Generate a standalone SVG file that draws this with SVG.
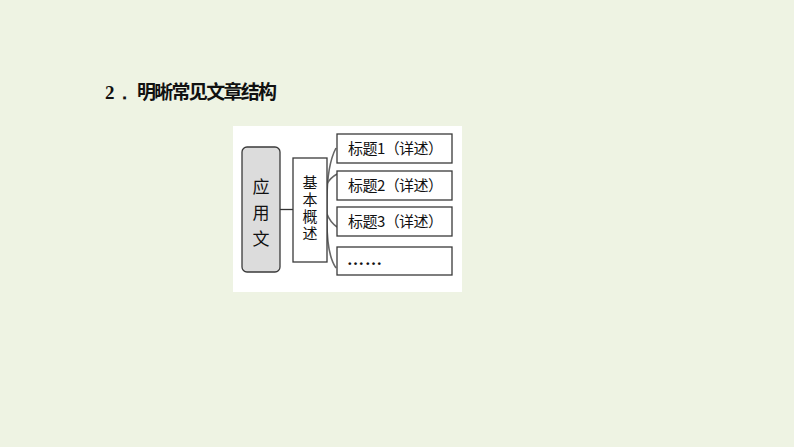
<svg xmlns="http://www.w3.org/2000/svg" width="794" height="447" viewBox="0 0 794 447">
<style>
.box{fill:#fff;stroke:#3a3a3a;stroke-width:1.3}
.t{font-family:"Noto Sans CJK SC","Liberation Serif",serif;fill:#111}
.lbl{font-size:15px}
.v{writing-mode:vertical-rl}
.con{fill:none;stroke:#666;stroke-width:1.6}
</style>
<rect x="0" y="0" width="794" height="447" fill="#eef3e3"/>
<text x="105" y="99" font-family="Liberation Serif, serif" font-weight="bold" font-size="19" fill="#111">2．</text>
<text x="137" y="99" class="t" font-weight="bold" font-size="19" textLength="140">明晰常见文章结构</text>
<rect x="233" y="126" width="229" height="166" fill="#fff"/>
<g id="connectors">
<line x1="280" y1="209.5" x2="293" y2="209.5" stroke="#333" stroke-width="1.3"/>
<path class="con" d="M336,148 Q327,165 327,200 L327,222 Q327,255 336,268"/>
<path class="con" d="M327,184 Q330,178 337,174"/>
<path class="con" d="M327,214 Q330,222 337,227"/>
</g>
<g id="n-yingyongwen">
<rect x="242" y="147" width="38" height="125" rx="5" fill="#dcdcdc" stroke="#3a3a3a" stroke-width="1.3"/>
<text class="t v" x="261" y="178" font-size="17" letter-spacing="9">应用文</text>
</g>
<g id="n-jiben">
<rect class="box" x="293" y="158" width="34" height="104"/>
<text class="t v" x="310" y="175" font-size="15" letter-spacing="2">基本概述</text>
</g>
<g id="n-t1">
<rect class="box" x="337" y="134" width="115" height="29"/>
<text class="t lbl" x="348" y="154" textLength="95">标题1（详述）</text>
</g>
<g id="n-t2">
<rect class="box" x="337" y="171" width="115" height="29"/>
<text class="t lbl" x="348" y="191" textLength="95">标题2（详述）</text>
</g>
<g id="n-t3">
<rect class="box" x="337" y="207" width="115" height="29"/>
<text class="t lbl" x="348" y="227" textLength="95">标题3（详述）</text>
</g>
<g id="n-more">
<rect class="box" x="337" y="247" width="115" height="28"/>
<text x="347" y="265" font-family="Liberation Serif, serif" font-weight="bold" font-size="17" fill="#111" textLength="35">……</text>
</g>
</svg>
